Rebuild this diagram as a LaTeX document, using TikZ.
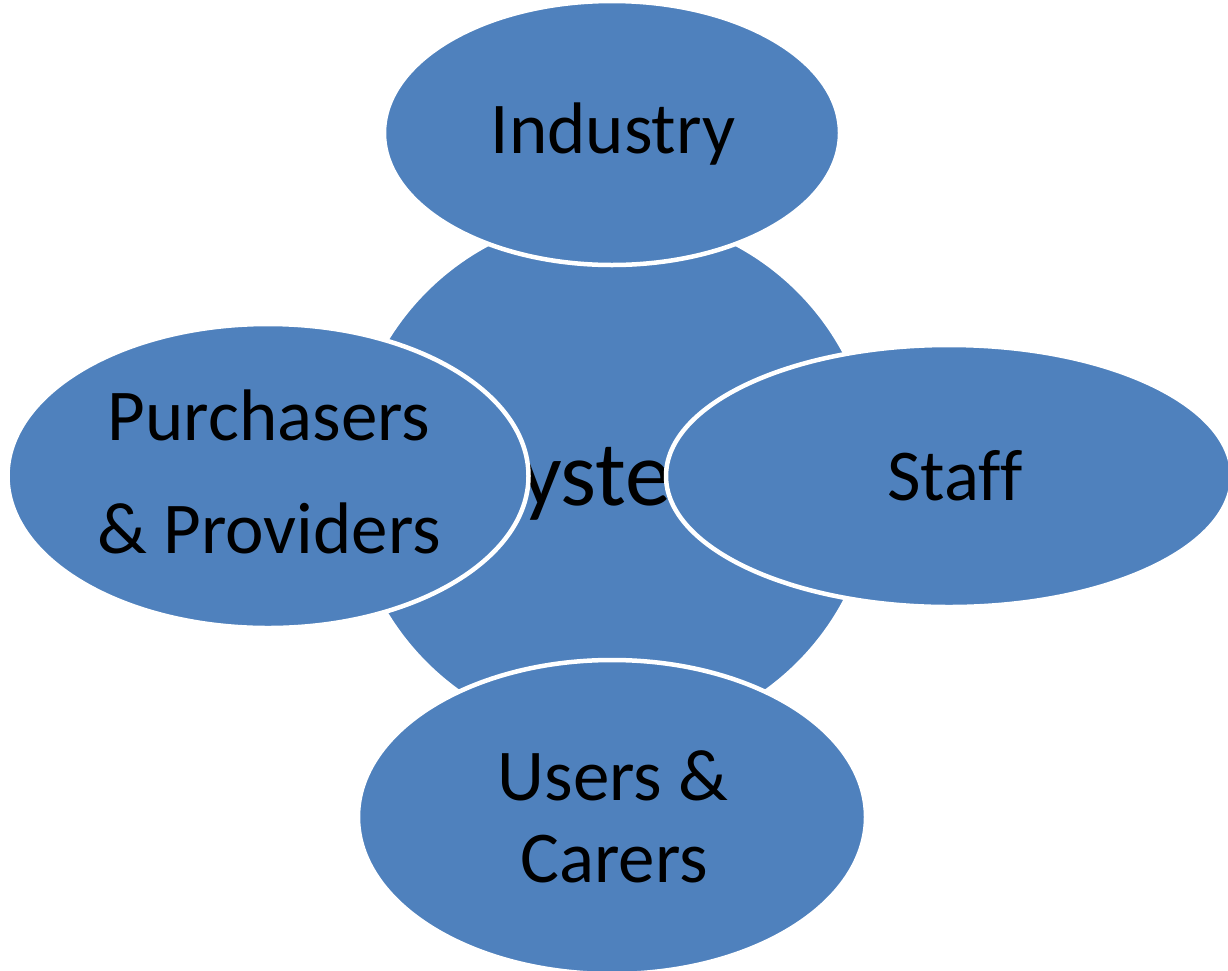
\documentclass[tikz,border=0pt]{standalone}
\usepackage{fontspec}
\setmainfont{Carlito}[Ligatures=NoCommon]
\usetikzlibrary{shapes.geometric}
\definecolor{officeblue}{HTML}{4F81BD}
\tikzset{
  blob/.style={ellipse, fill=officeblue, draw=white, line width=4.5pt, inner sep=0pt},
  lbl/.style={anchor=base, inner sep=0pt, font=\fontsize{73}{88}\selectfont, text=black},
  biglbl/.style={anchor=base, inner sep=0pt, font=\fontsize{92}{110}\selectfont, text=black}
}
\begin{document}
\begin{tikzpicture}[x=1pt,y=-1pt]
\useasboundingbox (0,0) rectangle (1228,970);
\clip (0,0) rectangle (1228,970);
\node[blob, circle, minimum size=528pt] (sys) at (612,477) {};
\node[biglbl] (tsys) at (612,505) {System};
\node[blob, minimum width=456pt, minimum height=264pt] (ind) at (612,133) {};
\node[lbl] (tind) at (613,153) {Industry};
\node[blob, minimum width=521pt, minimum height=304pt] (pur) at (268,476) {};
\node[lbl] (tpur1) at (269,440) {Purchasers};
\node[lbl] (tpur2) at (269,553) {\& Providers};
\node[blob, minimum width=566pt, minimum height=262pt] (stf) at (949,476) {};
\node[lbl] (tstf) at (955,500) {Staff};
\node[blob, minimum width=508pt, minimum height=314pt] (usr) at (612,817) {};
\node[lbl] (tusr1) at (613,800) {Users \&};
\node[lbl] (tusr2) at (614,882) {Carers};
\end{tikzpicture}
\end{document}
